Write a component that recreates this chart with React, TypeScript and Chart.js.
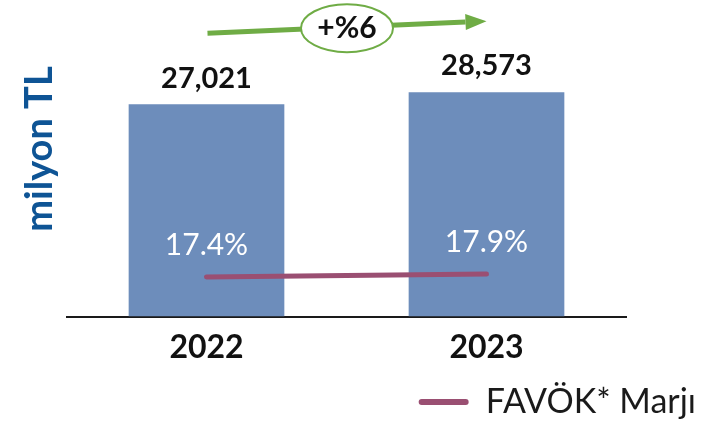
import React, { useEffect, useRef } from "react";
import { Chart, registerables } from "chart.js";

Chart.register(...registerables);

const categories = ["2022", "2023"];
const ebitda = [27021, 28573];
const margin = [17.4, 17.9];
const ebitdaLabels = ["27,021", "28,573"];
const marginLabels = ["17.4%", "17.9%"];
const growthLabel = "+%6";
const legendLabel = "FAVÖK* Marjı";
const yTitle = "  milyon TL";

const BAR_COLOR = "#6D8DBB";
const LINE_COLOR = "#9A4F72";
const GREEN = "#6FAC45";
const FONT = "Lato";

const labelsPlugin = {
  id: "customLabels",
  afterDatasetsDraw(chart: any) {
    const ctx = chart.ctx;
    const barMeta = chart.getDatasetMeta(0);
    const lineMeta = chart.getDatasetMeta(1);
    ctx.save();
    ctx.textAlign = "center";
    ctx.textBaseline = "middle";
    ctx.font = `bold 29px ${FONT}`;
    ctx.fillStyle = "#111";
    barMeta.data.forEach((el: any, i: number) => {
      ctx.fillText(ebitdaLabels[i], el.x, el.y - 26);
    });
    ctx.font = `30px ${FONT}`;
    ctx.fillStyle = "#ffffff";
    lineMeta.data.forEach((el: any, i: number) => {
      ctx.fillText(marginLabels[i], el.x, el.y - 32);
    });
    const a = barMeta.data[0];
    const b = barMeta.data[1];
    const x1 = a.x + 1;
    const y1 = a.y - 71;
    const x2 = b.x;
    const y2 = b.y - 71;
    const ang = Math.atan2(y2 - y1, x2 - x1);
    const headLen = 21;
    const headHalf = 8;
    const bx = x2 - headLen * Math.cos(ang);
    const by = y2 - headLen * Math.sin(ang);
    ctx.strokeStyle = GREEN;
    ctx.lineWidth = 5;
    ctx.beginPath();
    ctx.moveTo(x1, y1);
    ctx.lineTo(bx, by);
    ctx.stroke();
    ctx.fillStyle = GREEN;
    ctx.beginPath();
    ctx.moveTo(x2, y2);
    ctx.lineTo(bx - headHalf * Math.sin(ang), by + headHalf * Math.cos(ang));
    ctx.lineTo(bx + headHalf * Math.sin(ang), by - headHalf * Math.cos(ang));
    ctx.closePath();
    ctx.fill();
    const cx = (x1 + x2) / 2;
    const cy = (y1 + y2) / 2 + 1;
    ctx.beginPath();
    ctx.ellipse(cx, cy, 46, 24, 0, 0, Math.PI * 2);
    ctx.fillStyle = "#ffffff";
    ctx.fill();
    ctx.lineWidth = 2;
    ctx.strokeStyle = GREEN;
    ctx.stroke();
    ctx.fillStyle = "#111";
    ctx.font = `bold 30px ${FONT}`;
    ctx.fillText(growthLabel, cx, cy);
    ctx.restore();
  },
};

export default function App() {
  const ref = useRef<HTMLCanvasElement>(null);
  useEffect(() => {
    if (!ref.current) return;
    const chart = new Chart(ref.current, {
      type: "bar",
      data: {
        labels: categories,
        datasets: [
          {
            type: "bar",
            label: "FAVÖK",
            data: ebitda,
            backgroundColor: BAR_COLOR,
            borderWidth: 0,
            barPercentage: 0.556,
            categoryPercentage: 1,
            yAxisID: "y",
            order: 2,
          },
          {
            type: "line",
            label: legendLabel,
            data: margin,
            borderColor: LINE_COLOR,
            backgroundColor: LINE_COLOR,
            borderWidth: 5,
            borderCapStyle: "round",
            pointRadius: 0,
            yAxisID: "y1",
            order: 1,
          },
        ],
      } as any,
      options: {
        responsive: false,
        animation: false,
        layout: { padding: { left: 17.2, right: 8, top: 0, bottom: 0 } },
        plugins: {
          tooltip: { enabled: false },
          legend: {
            display: true,
            position: "bottom",
            align: "end",
            labels: {
              boxWidth: 50,
              boxHeight: 6,
              useBorderRadius: true,
              borderRadius: 3,
              padding: 6,
              color: "#1a1a1a",
              font: { family: FONT, size: 34 },
              generateLabels: () => [
                {
                  text: legendLabel,
                  fillStyle: LINE_COLOR,
                  strokeStyle: LINE_COLOR,
                  lineWidth: 0,
                  hidden: false,
                  datasetIndex: 1,
                  borderRadius: 3,
                  fontColor: "#1a1a1a",
                } as any,
              ],
            },
          },
        },
        scales: {
          x: {
            grid: { display: false, drawTicks: false },
            border: { display: true, color: "#1a1a1a", width: 2 },
            ticks: {
              color: "#111",
              padding: 12,
              font: { family: FONT, size: 32, weight: "bold" },
            },
          },
          y: {
            min: 0,
            max: 40300,
            grid: { display: false, drawTicks: false },
            border: { display: false },
            ticks: { display: false },
            title: {
              display: true,
              text: yTitle,
              color: "#0E5495",
              padding: { top: 0, bottom: 3.7 },
              font: { family: FONT, size: 38, weight: "bold" },
            },
          },
          y1: {
            display: true,
            position: "right",
            min: 10.73,
            max: 63.9,
            grid: { display: false, drawTicks: false },
            border: { display: false },
            ticks: { display: false },
            afterFit: (scale: any) => {
              scale.width = 75.5;
            },
          },
        },
      } as any,
      plugins: [labelsPlugin],
    });
    return () => chart.destroy();
  }, []);
  return (
    <canvas
      ref={ref}
      width={710}
      height={429}
      style={{ position: "fixed", left: 0, top: 0, display: "block" }}
    />
  );
}
